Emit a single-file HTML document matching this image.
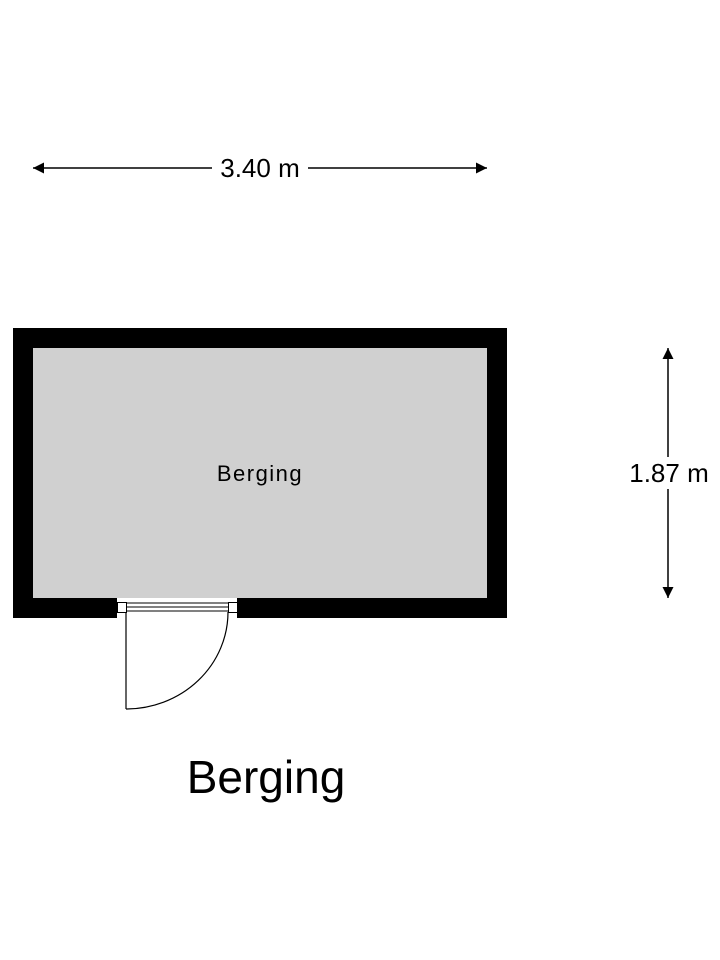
<!DOCTYPE html>
<html><head><meta charset="utf-8"><style>
html,body{margin:0;padding:0;background:#fff;}
svg{display:block;}
text{font-family:"Liberation Sans",Arial,sans-serif;fill:#000;}
</style></head><body>
<svg width="720" height="960" viewBox="0 0 720 960" xmlns="http://www.w3.org/2000/svg">
<defs>
<marker id="a" viewBox="0 0 10 10" refX="10" refY="5" markerWidth="16" markerHeight="11" markerUnits="userSpaceOnUse" orient="auto-start-reverse">
<path d="M0,0 L10,5 L0,10 z" fill="#000"/></marker>
</defs>
<line x1="33" y1="168" x2="212" y2="168" stroke="#000" stroke-width="1.5" marker-start="url(#a)"/>
<line x1="308" y1="168" x2="487" y2="168" stroke="#000" stroke-width="1.5" marker-end="url(#a)"/>
<text x="260" y="177" font-size="26" text-anchor="middle">3.40 m</text>
<line x1="668" y1="348" x2="668" y2="457" stroke="#000" stroke-width="1.5" marker-start="url(#a)"/>
<line x1="668" y1="489" x2="668" y2="598" stroke="#000" stroke-width="1.5" marker-end="url(#a)"/>
<text x="669" y="482" font-size="26" text-anchor="middle">1.87 m</text>
<rect x="13" y="328" width="494" height="290" fill="#000"/>
<rect x="33" y="348" width="454" height="250" fill="#d0d0d0"/>
<rect x="117" y="598" width="120" height="20" fill="#fff"/>
<rect x="117.5" y="602.5" width="9" height="10" fill="#fff" stroke="#000" stroke-width="1"/>
<rect x="228.5" y="602.5" width="9" height="10" fill="#fff" stroke="#000" stroke-width="1"/>
<line x1="126" y1="603" x2="228" y2="603" stroke="#000" stroke-width="1"/>
<line x1="126" y1="607" x2="228" y2="607" stroke="#000" stroke-width="1"/>
<line x1="126" y1="611" x2="228" y2="611" stroke="#000" stroke-width="1"/>
<line x1="126" y1="612" x2="126" y2="709" stroke="#000" stroke-width="1.2"/>
<path d="M126,709 A102,97 0 0 0 228,612" fill="none" stroke="#000" stroke-width="1.2"/>
<text x="260" y="481" font-size="22" text-anchor="middle" letter-spacing="1.5">Berging</text>
<text x="266" y="793" font-size="46" text-anchor="middle">Berging</text>
</svg>
</body></html>
